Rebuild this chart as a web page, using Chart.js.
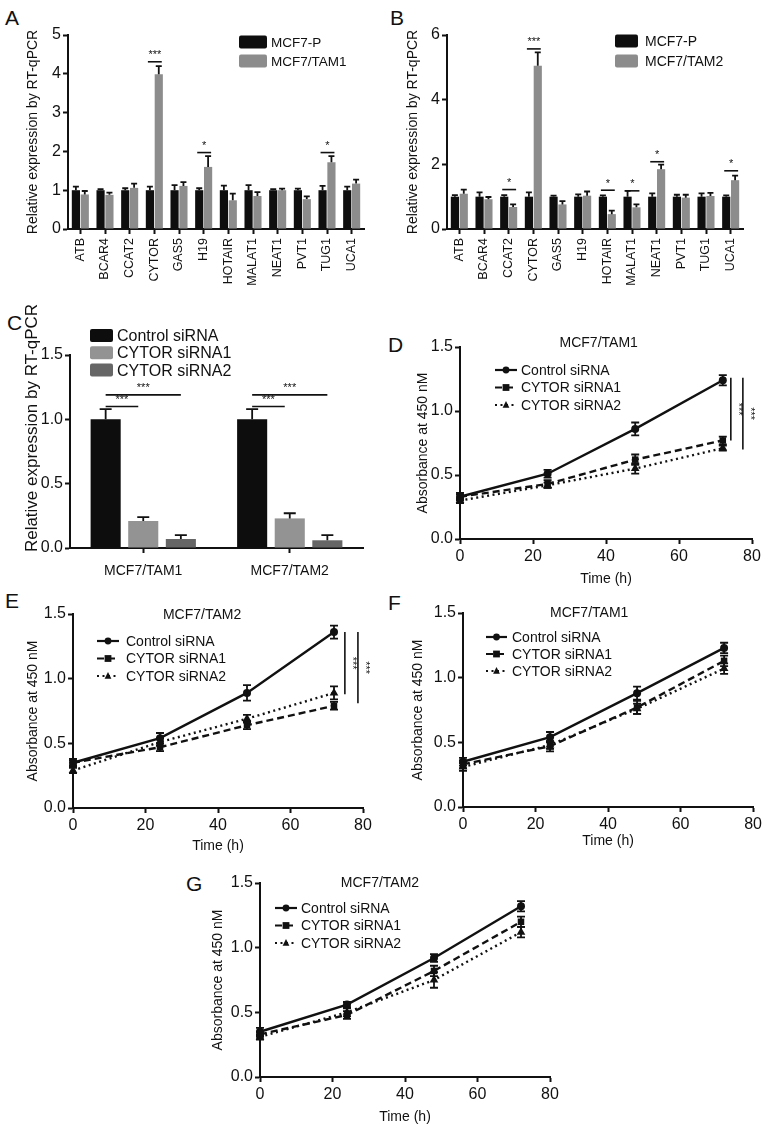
<!DOCTYPE html>
<html>
<head>
<meta charset="utf-8">
<script src="https://cdn.jsdelivr.net/npm/chart.js@4.4.0/dist/chart.umd.min.js"></script>
<style>
body{margin:0;background:#fff;width:765px;height:1128px;position:relative;overflow:hidden;font-family:'Liberation Sans',Arial,sans-serif}
.panel{position:absolute}
.letter{position:absolute;font-size:21px;line-height:1;color:#111}
</style>
</head>
<body>
<div class="letter" style="left:5px;top:7px">A</div>
<div class="letter" style="left:390px;top:7px">B</div>
<div class="letter" style="left:7px;top:312px">C</div>
<div class="letter" style="left:388px;top:334px">D</div>
<div class="letter" style="left:5px;top:590px">E</div>
<div class="letter" style="left:388px;top:592px">F</div>
<div class="letter" style="left:186px;top:873px">G</div>

<div class="panel" style="left:0;top:0;width:380px;height:290px"><canvas id="chartA"></canvas></div>
<div class="panel" style="left:380px;top:0;width:385px;height:290px"><canvas id="chartB"></canvas></div>
<div class="panel" style="left:0;top:290px;width:380px;height:292px"><canvas id="chartC"></canvas></div>
<div class="panel" style="left:380px;top:290px;width:385px;height:298px"><canvas id="chartD"></canvas></div>
<div class="panel" style="left:0;top:570px;width:380px;height:285px"><canvas id="chartE"></canvas></div>
<div class="panel" style="left:380px;top:570px;width:385px;height:280px"><canvas id="chartF"></canvas></div>
<div class="panel" style="left:190px;top:840px;width:380px;height:286px"><canvas id="chartG"></canvas></div>

<script>
// ---- data ----
const genes = ['ATB', 'BCAR4', 'CCAT2', 'CYTOR', 'GAS5', 'H19', 'HOTAIR', 'MALAT1', 'NEAT1', 'PVT1', 'TUG1', 'UCA1'];

// panel A
const aParent = [1, 1, 1, 1, 1, 1, 1, 1, 1, 1, 1, 1];
const aParentErr = [0.09, 0.03, 0.05, 0.09, 0.13, 0.05, 0.12, 0.13, 0.03, 0.04, 0.11, 0.09];
const aTam1 = [0.89, 0.88, 1.06, 3.99, 1.11, 1.6, 0.74, 0.85, 1.0, 0.77, 1.72, 1.17];
const aTam1Err = [0.09, 0.06, 0.11, 0.21, 0.1, 0.28, 0.17, 0.1, 0.04, 0.07, 0.16, 0.1];

// panel B
const bParent = [1, 1, 1, 1, 1, 1, 1, 1, 1, 1, 1, 1];
const bParentErr = [0.05, 0.13, 0.05, 0.13, 0.03, 0.07, 0.04, 0.18, 0.1, 0.06, 0.1, 0.04];
const bTam2 = [1.09, 0.92, 0.68, 5.05, 0.76, 1.03, 0.46, 0.67, 1.85, 0.97, 1.02, 1.51];
const bTam2Err = [0.13, 0.07, 0.08, 0.41, 0.1, 0.13, 0.11, 0.09, 0.14, 0.09, 0.1, 0.14];

// panel C
const cLines = ['MCF7/TAM1', 'MCF7/TAM2'];
const cControl = [1.0, 1.0];
const cControlErr = [0.08, 0.08];
const cSi1 = [0.21, 0.23];
const cSi1Err = [0.03, 0.04];
const cSi2 = [0.07, 0.06];
const cSi2Err = [0.03, 0.04];

// panels D-G (CCK-8)
const hours = [0, 24, 48, 72];
const dControl = [0.33, 0.51, 0.86, 1.24];
const dSi1 = [0.33, 0.43, 0.62, 0.77];
const dSi2 = [0.30, 0.42, 0.55, 0.71];
const eControl = [0.35, 0.54, 0.89, 1.36];
const eSi1 = [0.35, 0.47, 0.64, 0.79];
const eSi2 = [0.29, 0.51, 0.69, 0.89];
const fControl = [0.35, 0.54, 0.88, 1.23];
const fSi1 = [0.33, 0.47, 0.77, 1.13];
const fSi2 = [0.31, 0.48, 0.76, 1.07];
const gControl = [0.35, 0.56, 0.92, 1.32];
const gSi1 = [0.33, 0.48, 0.82, 1.20];
const gSi2 = [0.31, 0.50, 0.75, 1.12];
const dErr = [[0.03, 0.03, 0.05, 0.04], [0.02, 0.03, 0.04, 0.03], [0.02, 0.02, 0.04, 0.02]];
const eErr = [[0.03, 0.04, 0.06, 0.05], [0.02, 0.03, 0.03, 0.03], [0.02, 0.03, 0.03, 0.05]];
const fErr = [[0.03, 0.04, 0.05, 0.04], [0.03, 0.04, 0.05, 0.04], [0.03, 0.03, 0.04, 0.04]];
const gErr = [[0.03, 0.02, 0.03, 0.04], [0.02, 0.03, 0.04, 0.04], [0.02, 0.03, 0.06, 0.04]];

const seriesNames = ['Control siRNA', 'CYTOR siRNA1', 'CYTOR siRNA2'];

// ---- styling ----
const FONT = "'Liberation Sans', Arial, sans-serif";
const INK = '#111';
Chart.defaults.font.family = FONT;
Chart.defaults.color = INK;
Chart.defaults.animation = false;

function marker(ctx, style, x, y, r) {
    ctx.beginPath();
    if (style === 'circle') ctx.arc(x, y, r, 0, Math.PI * 2);
    else if (style === 'rect') ctx.rect(x - r, y - r, 2 * r, 2 * r);
    else {
        ctx.moveTo(x, y - r * 1.15);
        ctx.lineTo(x + r, y + r * 0.8);
        ctx.lineTo(x - r, y + r * 0.8);
        ctx.closePath();
    }
    ctx.fill();
}

// error bars, significance marks, inner legend and title
function makeExtras(spec) {
    return {
        id: 'extras',
        afterDatasetsDraw(chart) {
            const ctx = chart.ctx, ys = chart.scales.y;
            ctx.save();
            ctx.strokeStyle = INK;
            ctx.lineWidth = 1.8;
            ctx.setLineDash([]);
            chart.data.datasets.forEach((ds, i) => {
                if (!ds.errors) return;
                chart.getDatasetMeta(i).data.forEach((el, j) => {
                    const raw = ds.data[j];
                    const v = typeof raw === 'object' ? raw.y : raw;
                    const e = ds.errors[j];
                    const yTop = ys.getPixelForValue(v + e);
                    const yBot = spec.twoSided ? ys.getPixelForValue(v - e) : el.y;
                    ctx.beginPath();
                    ctx.moveTo(el.x, yBot);
                    ctx.lineTo(el.x, yTop);
                    ctx.moveTo(el.x - spec.cap, yTop);
                    ctx.lineTo(el.x + spec.cap, yTop);
                    if (spec.twoSided) {
                        ctx.moveTo(el.x - spec.cap, yBot);
                        ctx.lineTo(el.x + spec.cap, yBot);
                    }
                    ctx.stroke();
                });
            });
            ctx.restore();
        },
        afterDraw(chart) {
            const ctx = chart.ctx, area = chart.chartArea;
            const xs = chart.scales.x, ys = chart.scales.y;
            ctx.save();
            ctx.fillStyle = INK;
            ctx.strokeStyle = INK;

            // horizontal significance lines over bars
            (spec.barSig || []).forEach(s => {
                const a = chart.getDatasetMeta(s.from).data[s.index];
                const b = chart.getDatasetMeta(s.to).data[s.index];
                const x1 = a.x + (s.padL || 0), x2 = b.x + (s.padR || 0);
                const y = ys.getPixelForValue(s.y);
                ctx.lineWidth = 1.6;
                ctx.beginPath();
                ctx.moveTo(x1, y);
                ctx.lineTo(x2, y);
                ctx.stroke();
                ctx.font = '11px ' + FONT;
                ctx.textAlign = 'center';
                ctx.textBaseline = 'bottom';
                ctx.fillText(s.text, (x1 + x2) / 2, y - 1);
            });

            // vertical significance lines beside the curves
            (spec.vSig || []).forEach(s => {
                const x = xs.getPixelForValue(s.x);
                const y1 = ys.getPixelForValue(s.y1), y2 = ys.getPixelForValue(s.y2);
                ctx.lineWidth = 1.6;
                ctx.beginPath();
                ctx.moveTo(x, y1);
                ctx.lineTo(x, y2);
                ctx.stroke();
                ctx.save();
                ctx.translate(x + 7, (y1 + y2) / 2);
                ctx.rotate(Math.PI / 2);
                ctx.font = '11px ' + FONT;
                ctx.textAlign = 'center';
                ctx.textBaseline = 'middle';
                ctx.fillText(s.text, 0, 0);
                ctx.restore();
            });

            // inner title
            if (spec.title) {
                ctx.font = '14px ' + FONT;
                ctx.textAlign = 'center';
                ctx.textBaseline = 'middle';
                ctx.fillText(spec.title.text, xs.getPixelForValue(spec.title.x), area.top + spec.title.dy);
            }

            // custom y title (panel C)
            if (spec.yTitle) {
                ctx.save();
                ctx.translate(spec.yTitle.x, spec.yTitle.y);
                ctx.rotate(-Math.PI / 2);
                ctx.font = spec.yTitle.size + 'px ' + FONT;
                ctx.textAlign = 'center';
                ctx.textBaseline = 'middle';
                ctx.fillText(spec.yTitle.text, 0, 0);
                ctx.restore();
            }

            // inner legend
            const lg = spec.legend;
            if (lg) {
                chart.data.datasets.forEach((ds, i) => {
                    const x = area.left + lg.x;
                    const y = area.top + lg.y + i * lg.row;
                    if (lg.type === 'box') {
                        ctx.fillStyle = ds.backgroundColor;
                        ctx.beginPath();
                        ctx.roundRect(x, y - lg.boxH / 2, lg.boxW, lg.boxH, 2);
                        ctx.fill();
                    } else {
                        ctx.lineWidth = 2.2;
                        ctx.setLineDash(ds.borderDash || []);
                        ctx.beginPath();
                        ctx.moveTo(x, y);
                        ctx.lineTo(x + lg.boxW, y);
                        ctx.stroke();
                        ctx.setLineDash([]);
                        ctx.fillStyle = INK;
                        marker(ctx, ds.pointStyle, x + lg.boxW / 2, y, 3.4);
                    }
                    ctx.fillStyle = INK;
                    ctx.font = lg.font + 'px ' + FONT;
                    ctx.textAlign = 'left';
                    ctx.textBaseline = 'middle';
                    ctx.fillText(ds.label, x + lg.boxW + lg.gap, y + 1);
                });
            }
            ctx.restore();
        }
    };
}

function axisGrid() {
    return {
        display: true,
        drawOnChartArea: false,
        drawTicks: true,
        tickLength: 5,
        tickWidth: 2,
        tickColor: INK,
        color: INK
    };
}

// box: canvas size and the wanted plot area inside it
function layoutFor(box, yTitleX, yTitleSize) {
    return {
        padLeft: yTitleX - 0.6 * yTitleSize,
        padding: {left: yTitleX - 0.6 * yTitleSize, top: box.t, right: box.w - box.r, bottom: 0}
    };
}

function barChart(id, box, labels, datasets, y, x, spec) {
    const lay = layoutFor(box, y.titleX, y.titleSize);
    return new Chart(document.getElementById(id), {
        type: 'bar',
        data: {labels: labels, datasets: datasets},
        options: {
            responsive: true,
            maintainAspectRatio: false,
            layout: {padding: lay.padding},
            datasets: {bar: {categoryPercentage: x.cat, barPercentage: x.bar}},
            plugins: {legend: {display: false}, tooltip: {enabled: false}},
            scales: {
                x: {
                    grid: Object.assign(axisGrid(), {offset: false}),
                    border: {color: INK, width: 2},
                    ticks: {font: {size: x.font}, color: INK, padding: x.pad, minRotation: x.rot, maxRotation: x.rot, autoSkip: false},
                    afterFit: s => { s.height = box.h - box.b; }
                },
                y: {
                    min: 0,
                    max: y.max,
                    ticks: {stepSize: y.step, font: {size: y.font}, color: INK, padding: 2,
                        callback: v => y.dec ? v.toFixed(1) : v},
                    grid: axisGrid(),
                    border: {color: INK, width: 2},
                    title: {display: !!y.title, text: y.title, font: {size: y.titleSize}, padding: 0, color: INK},
                    afterFit: s => { s.width = box.l - lay.padLeft; }
                }
            }
        },
        plugins: [makeExtras(spec)]
    });
}

const styles = [
    {dash: [], point: 'circle', r: 4},
    {dash: [7, 4], point: 'rect', r: 4.6},
    {dash: [2, 3.5], point: 'triangle', r: 5}
];

function lineChart(id, box, values, errs, spec) {
    const lay = layoutFor(box, box.yTitleX, 14);
    const datasets = values.map((vals, k) => ({
        label: seriesNames[k],
        data: hours.map((h, i) => ({x: h, y: vals[i]})),
        errors: errs[k],
        showLine: true,
        borderColor: INK,
        backgroundColor: INK,
        borderWidth: 2.4,
        borderDash: styles[k].dash,
        pointStyle: styles[k].point,
        pointRadius: styles[k].r,
        pointBackgroundColor: INK,
        pointBorderColor: INK,
        pointBorderWidth: 0,
        clip: false
    }));
    return new Chart(document.getElementById(id), {
        type: 'scatter',
        data: {datasets: datasets},
        options: {
            responsive: true,
            maintainAspectRatio: false,
            layout: {padding: lay.padding},
            plugins: {legend: {display: false}, tooltip: {enabled: false}},
            scales: {
                x: {
                    type: 'linear',
                    min: 0,
                    max: 80,
                    ticks: {stepSize: 20, font: {size: 16}, color: INK, padding: 3},
                    grid: axisGrid(),
                    border: {color: INK, width: 2},
                    title: {display: true, text: 'Time (h)', font: {size: 14}, padding: 0, color: INK},
                    afterFit: s => { s.height = box.h - box.b; }
                },
                y: {
                    min: 0,
                    max: 1.5,
                    ticks: {stepSize: 0.5, font: {size: 16}, color: INK, padding: 2, callback: v => v.toFixed(1)},
                    grid: axisGrid(),
                    border: {color: INK, width: 2},
                    title: {display: true, text: 'Absorbance at 450 nM', font: {size: 14}, padding: 0, color: INK},
                    afterFit: s => { s.width = box.l - lay.padLeft; }
                }
            }
        },
        plugins: [makeExtras(spec)]
    });
}

// ---- panel A ----
barChart('chartA', {w: 380, h: 290, l: 68, r: 364, t: 35, b: 229}, genes, [
    {label: 'MCF7-P', data: aParent, errors: aParentErr, backgroundColor: '#0e0e0e'},
    {label: 'MCF7/TAM1', data: aTam1, errors: aTam1Err, backgroundColor: '#8c8c8c'}
], {max: 5, step: 1, font: 16, title: 'Relative expression by RT-qPCR', titleX: 33, titleSize: 14},
   {cat: 0.72, bar: 0.92, font: 12.5, pad: 4, rot: 90},
   {cap: 3, legend: {type: 'box', x: 171, y: 7, row: 19, boxW: 28, boxH: 13, gap: 4, font: 13.5},
    barSig: [
        {index: 3, from: 0, to: 1, y: 4.31, text: '***', padL: -2, padR: 3},
        {index: 5, from: 0, to: 1, y: 1.97, text: '*', padL: -2, padR: 3},
        {index: 10, from: 0, to: 1, y: 1.97, text: '*', padL: -2, padR: 3}
    ]});

// ---- panel B ----
barChart('chartB', {w: 385, h: 290, l: 67, r: 363, t: 35, b: 229}, genes, [
    {label: 'MCF7-P', data: bParent, errors: bParentErr, backgroundColor: '#0e0e0e'},
    {label: 'MCF7/TAM2', data: bTam2, errors: bTam2Err, backgroundColor: '#8c8c8c'}
], {max: 6, step: 2, font: 16, title: 'Relative expression by RT-qPCR', titleX: 33, titleSize: 14},
   {cat: 0.72, bar: 0.92, font: 12.5, pad: 4, rot: 90},
   {cap: 3, legend: {type: 'box', x: 168, y: 6, row: 20, boxW: 23, boxH: 13, gap: 7, font: 14},
    barSig: [
        {index: 2, from: 0, to: 1, y: 1.22, text: '*', padL: -2, padR: 3},
        {index: 3, from: 0, to: 1, y: 5.57, text: '***', padL: -2, padR: 3},
        {index: 6, from: 0, to: 1, y: 1.2, text: '*', padL: -2, padR: 3},
        {index: 7, from: 0, to: 1, y: 1.18, text: '*', padL: -2, padR: 3},
        {index: 8, from: 0, to: 1, y: 2.08, text: '*', padL: -2, padR: 3},
        {index: 11, from: 0, to: 1, y: 1.8, text: '*', padL: -2, padR: 3}
    ]});

// ---- panel C ----
barChart('chartC', {w: 380, h: 292, l: 70, r: 363, t: 65, b: 258}, cLines, [
    {label: seriesNames[0], data: cControl, errors: cControlErr, backgroundColor: '#0d0d0d'},
    {label: seriesNames[1], data: cSi1, errors: cSi1Err, backgroundColor: '#939393'},
    {label: seriesNames[2], data: cSi2, errors: cSi2Err, backgroundColor: '#666666'}
], {max: 1.5, step: 0.5, font: 16, dec: true, title: '', titleX: 30, titleSize: 17},
   {cat: 0.77, bar: 0.8, font: 14, pad: 10, rot: 0},
   {cap: 6, yTitle: {text: 'Relative expression by RT-qPCR', x: 32, y: 138, size: 17},
    legend: {type: 'box', x: 20, y: -19.5, row: 17.3, boxW: 23, boxH: 13, gap: 4, font: 16},
    barSig: [
        {index: 0, from: 0, to: 1, y: 1.1, text: '***', padL: 0, padR: -5},
        {index: 0, from: 0, to: 2, y: 1.19, text: '***', padL: 0, padR: 0},
        {index: 1, from: 0, to: 1, y: 1.1, text: '***', padL: 0, padR: -5},
        {index: 1, from: 0, to: 2, y: 1.19, text: '***', padL: 0, padR: 0}
    ]});

// ---- panels D-G ----
lineChart('chartD', {w: 385, h: 298, l: 80, r: 372, t: 57, b: 249, yTitleX: 43},
    [dControl, dSi1, dSi2], dErr,
    {cap: 4, twoSided: true, title: {text: 'MCF7/TAM1', x: 38, dy: -4},
     legend: {type: 'line', x: 35, y: 23, row: 17.5, boxW: 22, gap: 4, font: 14},
     vSig: [{x: 74.2, y1: 1.26, y2: 0.77, text: '***'}, {x: 77.5, y1: 1.26, y2: 0.70, text: '***'}]});

lineChart('chartE', {w: 380, h: 285, l: 73, r: 363, t: 44, b: 238, yTitleX: 33},
    [eControl, eSi1, eSi2], eErr,
    {cap: 4, twoSided: true, title: {text: 'MCF7/TAM2', x: 35.6, dy: 1},
     legend: {type: 'line', x: 24, y: 27, row: 17.5, boxW: 22, gap: 7, font: 14},
     vSig: [{x: 75.0, y1: 1.36, y2: 0.88, text: '***'}, {x: 78.6, y1: 1.36, y2: 0.81, text: '***'}]});

lineChart('chartF', {w: 385, h: 280, l: 83, r: 375, t: 43, b: 237, yTitleX: 38},
    [fControl, fSi1, fSi2], fErr,
    {cap: 4, twoSided: true, title: {text: 'MCF7/TAM1', x: 34.8, dy: 0},
     legend: {type: 'line', x: 23, y: 24, row: 17, boxW: 21, gap: 5, font: 14}});

lineChart('chartG', {w: 380, h: 286, l: 70, r: 360, t: 43, b: 237, yTitleX: 28},
    [gControl, gSi1, gSi2], gErr,
    {cap: 4, twoSided: true, title: {text: 'MCF7/TAM2', x: 33.1, dy: 0},
     legend: {type: 'line', x: 15, y: 25, row: 17.5, boxW: 22, gap: 4, font: 14}});
</script>
</body>
</html>
